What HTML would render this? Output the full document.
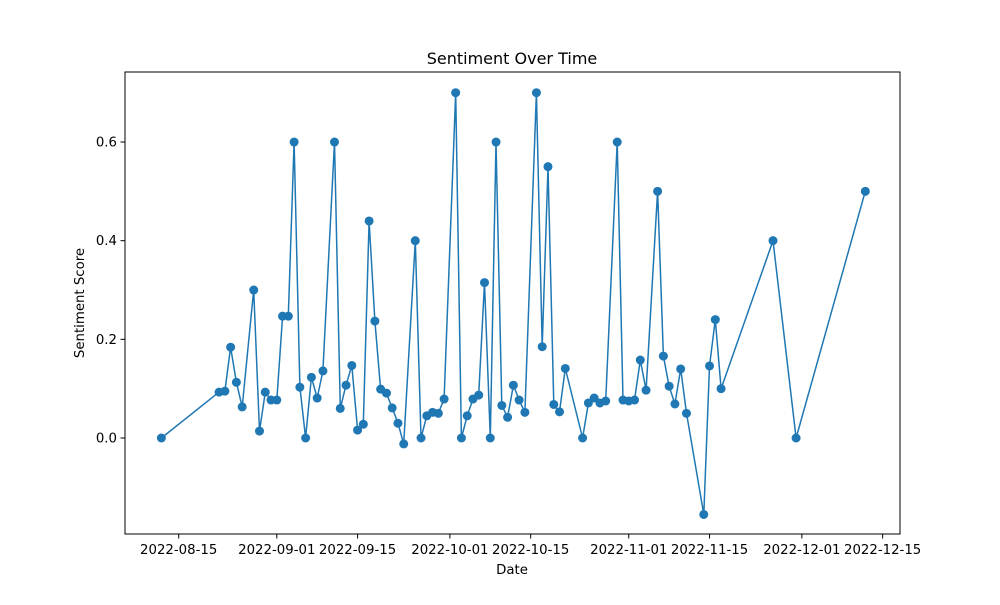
<!DOCTYPE html>
<html><head><meta charset="utf-8"><style>
body{margin:0;background:#fff}
svg text{font-family:"DejaVu Sans","Liberation Sans",sans-serif;fill:#000}
</style></head><body>
<svg id="chart" width="1000" height="600" xmlns="http://www.w3.org/2000/svg">
<rect width="1000" height="600" fill="#fff"/>
<text x="512" y="64" font-size="16" text-anchor="middle">Sentiment Over Time</text>
<text x="512" y="574" font-size="13.3" text-anchor="middle">Date</text>
<text transform="translate(84,303) rotate(-90)" font-size="13.3" text-anchor="middle">Sentiment Score</text>
<g id="ticks"></g>
<g id="series"></g>
<rect x="125" y="72" width="775" height="462" fill="none" stroke="#000" stroke-width="1"/>
</svg>
<script>
const dates=["2022-08-12","2022-08-22","2022-08-23","2022-08-24","2022-08-25","2022-08-26","2022-08-28","2022-08-29","2022-08-30","2022-08-31","2022-09-01","2022-09-02","2022-09-03","2022-09-04","2022-09-05","2022-09-06","2022-09-07","2022-09-08","2022-09-09","2022-09-11","2022-09-12","2022-09-13","2022-09-14","2022-09-15","2022-09-16","2022-09-17","2022-09-18","2022-09-19","2022-09-20","2022-09-21","2022-09-22","2022-09-23","2022-09-25","2022-09-26","2022-09-27","2022-09-28","2022-09-29","2022-09-30","2022-10-02","2022-10-03","2022-10-04","2022-10-05","2022-10-06","2022-10-07","2022-10-08","2022-10-09","2022-10-10","2022-10-11","2022-10-12","2022-10-13","2022-10-14","2022-10-16","2022-10-17","2022-10-18","2022-10-19","2022-10-20","2022-10-21","2022-10-24","2022-10-25","2022-10-26","2022-10-27","2022-10-28","2022-10-30","2022-10-31","2022-11-01","2022-11-02","2022-11-03","2022-11-04","2022-11-06","2022-11-07","2022-11-08","2022-11-09","2022-11-10","2022-11-11","2022-11-14","2022-11-15","2022-11-16","2022-11-17","2022-11-26","2022-11-30","2022-12-12"];
const scores=[0,0.093,0.095,0.184,0.113,0.063,0.3,0.014,0.093,0.077,0.077,0.247,0.247,0.6,0.103,0,0.123,0.081,0.136,0.6,0.06,0.107,0.147,0.016,0.028,0.44,0.237,0.099,0.091,0.061,0.03,-0.012,0.4,0,0.045,0.052,0.05,0.079,0.7,0,0.045,0.079,0.087,0.315,0,0.6,0.066,0.042,0.107,0.077,0.052,0.7,0.185,0.55,0.068,0.053,0.141,0,0.071,0.081,0.071,0.075,0.6,0.077,0.075,0.077,0.158,0.097,0.5,0.166,0.105,0.069,0.14,0.05,-0.155,0.146,0.24,0.1,0.4,0,0.5];
const xTicks=["2022-08-15","2022-09-01","2022-09-15","2022-10-01","2022-10-15","2022-11-01","2022-11-15","2022-12-01","2022-12-15"];
const yTicks=[0,0.2,0.4,0.6];
const NS="http://www.w3.org/2000/svg";
const base=Date.UTC(2022,7,15);
function dayOf(s){const p=s.split("-");return (Date.UTC(+p[0],+p[1]-1,+p[2])-base)/86400000;}
function xScale(s){return 178.7+dayOf(s)*5.77;}
function yScale(v){return 438-v*493.3;}
const tg=document.getElementById("ticks"),sg=document.getElementById("series");
function mk(tag,attrs,parent){const e=document.createElementNS(NS,tag);for(const k in attrs)e.setAttribute(k,attrs[k]);parent.appendChild(e);return e;}
xTicks.forEach(t=>{const x=xScale(t);
 const l=mk("line",{x1:x,x2:x,y1:534,y2:538.5,stroke:"#000"},tg);
 
 
 const tx=mk("text",{x:x,y:554,"font-size":13.3,"text-anchor":"middle"},tg);tx.textContent=t;
 
 
});
yTicks.forEach(v=>{const y=yScale(v);
 const l=mk("line",{x1:120.5,x2:125,y1:y,y2:y,stroke:"#000"},tg);
 
 
 const tx=mk("text",{x:117,y:y+4.5,"font-size":13.3,"text-anchor":"end"},tg);tx.textContent=v.toFixed(1);
 
 
});
const pts=dates.map((d,i)=>xScale(d).toFixed(1)+","+yScale(scores[i]).toFixed(1)).join(" ");
const line=mk("polyline",{points:pts,fill:"none",stroke:"#1f77b4","stroke-width":1.5,"stroke-linejoin":"round"},sg);


dates.forEach((d,i)=>{const c=mk("circle",{cx:xScale(d),cy:yScale(scores[i]),r:4.5,fill:"#1f77b4"},sg);
 
 
});
</script>
</body></html>
